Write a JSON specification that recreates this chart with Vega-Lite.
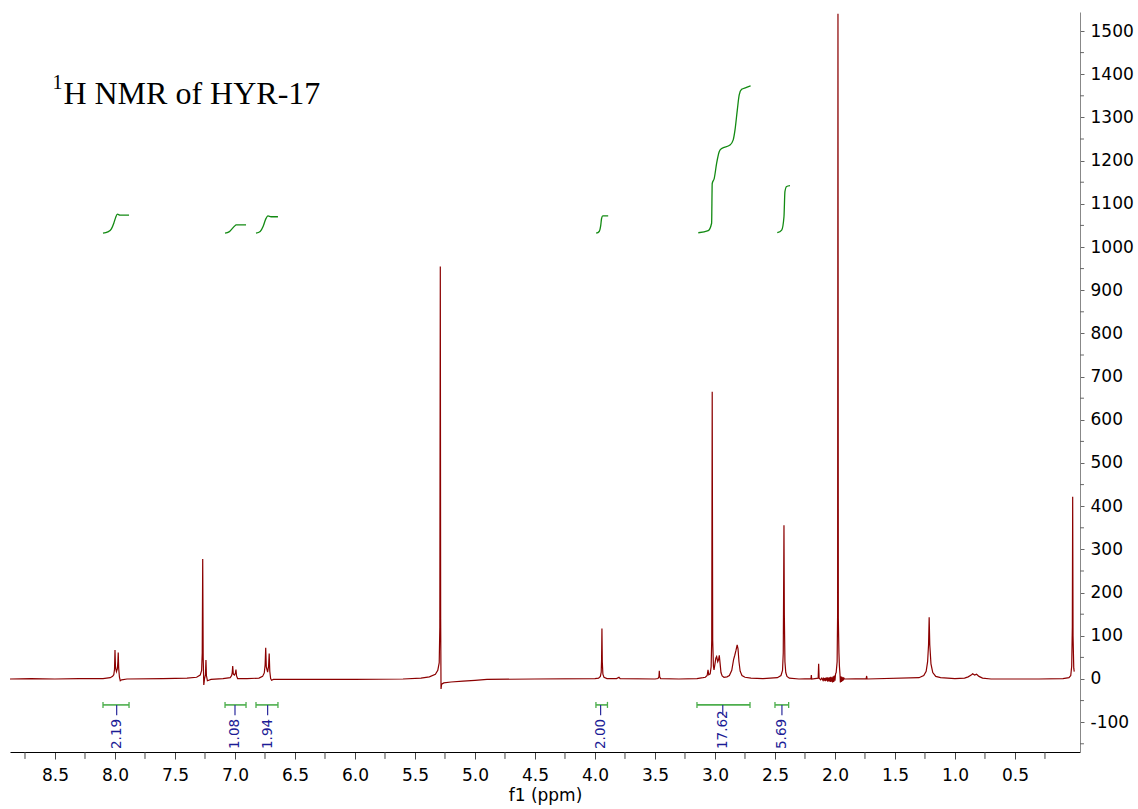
{
  "$schema": "https://vega.github.io/schema/vega-lite/v6.json",
  "width": 1070,
  "height": 740,
  "padding": {"left": 10, "top": 12, "right": 5, "bottom": 5},
  "background": "white",
  "config": {
    "view": {"stroke": null},
    "locale": {"number": {"decimal": ".", "thousands": ",", "grouping": [3], "currency": ["$", ""], "minus": "-"}}
  },
  "datasets": {
    "spec": [
      {"ppm": 8.875, "i": 0}, {"ppm": 8.7, "i": 1}, {"ppm": 8.5, "i": 0}, {"ppm": 8.3, "i": 1}, {"ppm": 8.1, "i": 1},
      {"ppm": 8.04, "i": 3}, {"ppm": 8.02, "i": 6}, {"ppm": 8.01, "i": 10}, {"ppm": 8.004, "i": 22}, {"ppm": 8.0, "i": 67},
      {"ppm": 7.996, "i": 28}, {"ppm": 7.988, "i": 17}, {"ppm": 7.98, "i": 24}, {"ppm": 7.976, "i": 40}, {"ppm": 7.973, "i": 61},
      {"ppm": 7.969, "i": 24}, {"ppm": 7.963, "i": 4}, {"ppm": 7.956, "i": -4}, {"ppm": 7.945, "i": -2}, {"ppm": 7.9, "i": 0},
      {"ppm": 7.6, "i": 1}, {"ppm": 7.4, "i": 2}, {"ppm": 7.32, "i": 4}, {"ppm": 7.29, "i": 9}, {"ppm": 7.278, "i": 20},
      {"ppm": 7.273, "i": 60}, {"ppm": 7.269, "i": 278}, {"ppm": 7.265, "i": 50}, {"ppm": 7.26, "i": -14}, {"ppm": 7.254, "i": 0},
      {"ppm": 7.246, "i": 10}, {"ppm": 7.242, "i": 44}, {"ppm": 7.238, "i": 8}, {"ppm": 7.23, "i": -4}, {"ppm": 7.2, "i": -1},
      {"ppm": 7.1, "i": 1}, {"ppm": 7.04, "i": 3}, {"ppm": 7.028, "i": 8}, {"ppm": 7.023, "i": 15}, {"ppm": 7.019, "i": 30},
      {"ppm": 7.014, "i": 11}, {"ppm": 7.004, "i": 9}, {"ppm": 6.996, "i": 14}, {"ppm": 6.992, "i": 22}, {"ppm": 6.987, "i": 7},
      {"ppm": 6.978, "i": 1}, {"ppm": 6.9, "i": 1}, {"ppm": 6.8, "i": 2}, {"ppm": 6.77, "i": 6}, {"ppm": 6.756, "i": 14},
      {"ppm": 6.749, "i": 32}, {"ppm": 6.744, "i": 72}, {"ppm": 6.739, "i": 28}, {"ppm": 6.728, "i": 16}, {"ppm": 6.72, "i": 30},
      {"ppm": 6.715, "i": 59}, {"ppm": 6.71, "i": 18}, {"ppm": 6.703, "i": 1}, {"ppm": 6.695, "i": -3}, {"ppm": 6.68, "i": -1},
      {"ppm": 6.5, "i": -1}, {"ppm": 6.0, "i": -1}, {"ppm": 5.6, "i": 0}, {"ppm": 5.45, "i": 2}, {"ppm": 5.38, "i": 5},
      {"ppm": 5.33, "i": 11}, {"ppm": 5.31, "i": 20}, {"ppm": 5.298, "i": 38}, {"ppm": 5.293, "i": 120}, {"ppm": 5.289, "i": 955},
      {"ppm": 5.286, "i": 140}, {"ppm": 5.283, "i": -23}, {"ppm": 5.278, "i": -12}, {"ppm": 5.26, "i": -9}, {"ppm": 5.2, "i": -7},
      {"ppm": 5.1, "i": -5}, {"ppm": 5.0, "i": -3}, {"ppm": 4.9, "i": -1}, {"ppm": 4.5, "i": 0}, {"ppm": 4.0, "i": 1},
      {"ppm": 3.97, "i": 2}, {"ppm": 3.955, "i": 6}, {"ppm": 3.948, "i": 16}, {"ppm": 3.945, "i": 45}, {"ppm": 3.942, "i": 117},
      {"ppm": 3.939, "i": 40}, {"ppm": 3.934, "i": 11}, {"ppm": 3.925, "i": 4}, {"ppm": 3.9, "i": 1}, {"ppm": 3.82, "i": 1},
      {"ppm": 3.8, "i": 4}, {"ppm": 3.79, "i": 1}, {"ppm": 3.5, "i": 0}, {"ppm": 3.475, "i": 1}, {"ppm": 3.467, "i": 5},
      {"ppm": 3.464, "i": 19}, {"ppm": 3.461, "i": 5}, {"ppm": 3.453, "i": 1}, {"ppm": 3.3, "i": 0}, {"ppm": 3.15, "i": 1},
      {"ppm": 3.1, "i": 3}, {"ppm": 3.08, "i": 4}, {"ppm": 3.065, "i": 8}, {"ppm": 3.058, "i": 21}, {"ppm": 3.052, "i": 10},
      {"ppm": 3.04, "i": 12}, {"ppm": 3.032, "i": 28}, {"ppm": 3.027, "i": 90}, {"ppm": 3.023, "i": 665}, {"ppm": 3.019, "i": 90},
      {"ppm": 3.013, "i": 30}, {"ppm": 3.008, "i": 21}, {"ppm": 3.0, "i": 35}, {"ppm": 2.993, "i": 48}, {"ppm": 2.986, "i": 52},
      {"ppm": 2.977, "i": 40}, {"ppm": 2.97, "i": 45}, {"ppm": 2.964, "i": 55}, {"ppm": 2.958, "i": 38}, {"ppm": 2.95, "i": 15},
      {"ppm": 2.94, "i": 7}, {"ppm": 2.925, "i": 4}, {"ppm": 2.9, "i": 5}, {"ppm": 2.88, "i": 8}, {"ppm": 2.86, "i": 20},
      {"ppm": 2.845, "i": 45}, {"ppm": 2.835, "i": 55}, {"ppm": 2.825, "i": 66}, {"ppm": 2.815, "i": 79}, {"ppm": 2.808, "i": 70},
      {"ppm": 2.8, "i": 40}, {"ppm": 2.79, "i": 18}, {"ppm": 2.775, "i": 8}, {"ppm": 2.75, "i": 4}, {"ppm": 2.7, "i": 2},
      {"ppm": 2.6, "i": 1}, {"ppm": 2.48, "i": 3}, {"ppm": 2.45, "i": 8}, {"ppm": 2.437, "i": 20}, {"ppm": 2.431, "i": 60},
      {"ppm": 2.428, "i": 200}, {"ppm": 2.425, "i": 356}, {"ppm": 2.422, "i": 150}, {"ppm": 2.417, "i": 40}, {"ppm": 2.41, "i": 15},
      {"ppm": 2.4, "i": 6}, {"ppm": 2.38, "i": 2}, {"ppm": 2.3, "i": 0}, {"ppm": 2.2, "i": 1}, {"ppm": 2.197, "i": 9},
      {"ppm": 2.194, "i": 0}, {"ppm": 2.14, "i": 2}, {"ppm": 2.136, "i": 35}, {"ppm": 2.132, "i": 2},
      {"ppm": 2.12, "i": -2}, {"ppm": 2.11, "i": 2}, {"ppm": 2.1, "i": -3}, {"ppm": 2.095, "i": 3}, {"ppm": 2.09, "i": -4},
      {"ppm": 2.085, "i": 2}, {"ppm": 2.08, "i": -5}, {"ppm": 2.075, "i": 3}, {"ppm": 2.07, "i": -4}, {"ppm": 2.065, "i": 4},
      {"ppm": 2.06, "i": -6}, {"ppm": 2.055, "i": 3}, {"ppm": 2.05, "i": -5}, {"ppm": 2.045, "i": 4}, {"ppm": 2.04, "i": -7},
      {"ppm": 2.035, "i": 5}, {"ppm": 2.03, "i": -6}, {"ppm": 2.025, "i": 4}, {"ppm": 2.02, "i": -8}, {"ppm": 2.015, "i": 6},
      {"ppm": 2.01, "i": -7}, {"ppm": 2.005, "i": 8}, {"ppm": 2.0, "i": -4}, {"ppm": 1.995, "i": 12}, {"ppm": 1.99, "i": 15},
      {"ppm": 1.982, "i": 40}, {"ppm": 1.978, "i": 150}, {"ppm": 1.975, "i": 1540}, {"ppm": 1.972, "i": 140}, {"ppm": 1.967, "i": 61},
      {"ppm": 1.963, "i": 30}, {"ppm": 1.958, "i": 10}, {"ppm": 1.955, "i": -8}, {"ppm": 1.951, "i": 6}, {"ppm": 1.947, "i": -7},
      {"ppm": 1.943, "i": 5}, {"ppm": 1.939, "i": -5}, {"ppm": 1.935, "i": 4}, {"ppm": 1.93, "i": -3}, {"ppm": 1.925, "i": 2},
      {"ppm": 1.92, "i": 0}, {"ppm": 1.74, "i": 1}, {"ppm": 1.736, "i": 7}, {"ppm": 1.732, "i": 0}, {"ppm": 1.3, "i": 3},
      {"ppm": 1.26, "i": 8}, {"ppm": 1.24, "i": 18}, {"ppm": 1.228, "i": 40}, {"ppm": 1.22, "i": 80}, {"ppm": 1.215, "i": 143},
      {"ppm": 1.21, "i": 80}, {"ppm": 1.2, "i": 35}, {"ppm": 1.185, "i": 15}, {"ppm": 1.16, "i": 6}, {"ppm": 1.12, "i": 3},
      {"ppm": 1.0, "i": 1}, {"ppm": 0.92, "i": 2}, {"ppm": 0.89, "i": 5}, {"ppm": 0.865, "i": 9}, {"ppm": 0.853, "i": 12},
      {"ppm": 0.836, "i": 9}, {"ppm": 0.82, "i": 11}, {"ppm": 0.8, "i": 6}, {"ppm": 0.77, "i": 2}, {"ppm": 0.7, "i": 0},
      {"ppm": 0.3, "i": 0}, {"ppm": 0.1, "i": 1}, {"ppm": 0.05, "i": 3}, {"ppm": 0.035, "i": 8}, {"ppm": 0.027, "i": 30},
      {"ppm": 0.022, "i": 120}, {"ppm": 0.019, "i": 422}, {"ppm": 0.016, "i": 100}, {"ppm": 0.01, "i": 25}, {"ppm": 0.006, "i": 17}
    ],
    "integ": [
      {"g": 1, "ppm": 8.1, "i": 1032}, {"g": 1, "ppm": 8.06, "i": 1035}, {"g": 1, "ppm": 8.03, "i": 1042}, {"g": 1, "ppm": 8.01, "i": 1055},
      {"g": 1, "ppm": 7.995, "i": 1068}, {"g": 1, "ppm": 7.98, "i": 1076}, {"g": 1, "ppm": 7.96, "i": 1074}, {"g": 1, "ppm": 7.883, "i": 1074},
      {"g": 2, "ppm": 7.083, "i": 1032}, {"g": 2, "ppm": 7.05, "i": 1035}, {"g": 2, "ppm": 7.025, "i": 1042}, {"g": 2, "ppm": 7.005, "i": 1048},
      {"g": 2, "ppm": 6.99, "i": 1051}, {"g": 2, "ppm": 6.908, "i": 1051},
      {"g": 3, "ppm": 6.825, "i": 1032}, {"g": 3, "ppm": 6.79, "i": 1036}, {"g": 3, "ppm": 6.765, "i": 1048}, {"g": 3, "ppm": 6.745, "i": 1064},
      {"g": 3, "ppm": 6.725, "i": 1072}, {"g": 3, "ppm": 6.7, "i": 1070}, {"g": 3, "ppm": 6.642, "i": 1070},
      {"g": 4, "ppm": 3.99, "i": 1032}, {"g": 4, "ppm": 3.965, "i": 1036}, {"g": 4, "ppm": 3.952, "i": 1050}, {"g": 4, "ppm": 3.945, "i": 1066},
      {"g": 4, "ppm": 3.935, "i": 1072}, {"g": 4, "ppm": 3.89, "i": 1072},
      {"g": 5, "ppm": 3.139, "i": 1033}, {"g": 5, "ppm": 3.056, "i": 1038}, {"g": 5, "ppm": 3.028, "i": 1055}, {"g": 5, "ppm": 3.023, "i": 1147},
      {"g": 5, "ppm": 3.006, "i": 1159}, {"g": 5, "ppm": 2.986, "i": 1194}, {"g": 5, "ppm": 2.964, "i": 1221}, {"g": 5, "ppm": 2.944, "i": 1228},
      {"g": 5, "ppm": 2.875, "i": 1236}, {"g": 5, "ppm": 2.848, "i": 1248}, {"g": 5, "ppm": 2.833, "i": 1271}, {"g": 5, "ppm": 2.814, "i": 1317},
      {"g": 5, "ppm": 2.798, "i": 1352}, {"g": 5, "ppm": 2.778, "i": 1365}, {"g": 5, "ppm": 2.742, "i": 1369}, {"g": 5, "ppm": 2.703, "i": 1373},
      {"g": 6, "ppm": 2.481, "i": 1033}, {"g": 6, "ppm": 2.444, "i": 1039}, {"g": 6, "ppm": 2.425, "i": 1070}, {"g": 6, "ppm": 2.417, "i": 1128},
      {"g": 6, "ppm": 2.403, "i": 1140}, {"g": 6, "ppm": 2.375, "i": 1142}
    ],
    "brk": [
      {"label": "2.19", "lo": 7.883, "hi": 8.1, "mid": 7.986},
      {"label": "1.08", "lo": 6.908, "hi": 7.083, "mid": 7.0},
      {"label": "1.94", "lo": 6.642, "hi": 6.825, "mid": 6.728},
      {"label": "2.00", "lo": 3.896, "hi": 3.992, "mid": 3.953},
      {"label": "17.62", "lo": 2.708, "hi": 3.15, "mid": 2.935},
      {"label": "5.69", "lo": 2.386, "hi": 2.5, "mid": 2.442}
    ],
    "xminor": [
      {"ppm": 0.25}, {"ppm": 0.75}, {"ppm": 1.25}, {"ppm": 1.75}, {"ppm": 2.25}, {"ppm": 2.75}, {"ppm": 3.25}, {"ppm": 3.75}, {"ppm": 4.25},
      {"ppm": 4.75}, {"ppm": 5.25}, {"ppm": 5.75}, {"ppm": 6.25}, {"ppm": 6.75}, {"ppm": 7.25}, {"ppm": 7.75}, {"ppm": 8.25}, {"ppm": 8.75}
    ],
    "yminor": [
      {"i": -150}, {"i": -50}, {"i": 50}, {"i": 150}, {"i": 250}, {"i": 350}, {"i": 450}, {"i": 550}, {"i": 650},
      {"i": 750}, {"i": 850}, {"i": 950}, {"i": 1050}, {"i": 1150}, {"i": 1250}, {"i": 1350}, {"i": 1450}
    ]
  },
  "layer": [
    {
      "data": {"name": "spec"},
      "mark": {"type": "line", "color": "#8b0000", "strokeWidth": 1.2, "clip": true},
      "encoding": {
        "x": {
          "field": "ppm", "type": "quantitative", "title": "f1 (ppm)",
          "scale": {"domain": [-0.042, 8.875], "reverse": true, "nice": false, "zero": false},
          "axis": {
            "titleFont": "DejaVu Sans", "titleFontSize": 17, "titleFontWeight": "normal", "titleColor": "#000",
            "titlePadding": 4,
            "values": [0.5, 1, 1.5, 2, 2.5, 3, 3.5, 4, 4.5, 5, 5.5, 6, 6.5, 7, 7.5, 8, 8.5],
            "format": ".1f",
            "labelFont": "DejaVu Sans", "labelFontSize": 17, "labelColor": "#000",
            "labelOverlap": false, "labelFlush": false, "labelPadding": 8,
            "tickSize": 7, "tickColor": "#444", "domainColor": "#000", "grid": false
          }
        },
        "y": {
          "field": "i", "type": "quantitative", "title": null,
          "scale": {"domain": [-169, 1544], "nice": false, "zero": false},
          "axis": {
            "orient": "right",
            "values": [-100, 0, 100, 200, 300, 400, 500, 600, 700, 800, 900, 1000, 1100, 1200, 1300, 1400, 1500],
            "format": "d",
            "labelFont": "DejaVu Sans", "labelFontSize": 17, "labelColor": "#000",
            "labelOverlap": false, "labelFlush": false, "labelPadding": 6,
            "tickSize": 4, "tickColor": "#666", "domainColor": "#888", "grid": false
          }
        }
      }
    },
    {
      "data": {"name": "xminor"},
      "mark": {"type": "rule", "color": "#444", "strokeWidth": 1, "clip": false},
      "encoding": {
        "x": {"field": "ppm", "type": "quantitative", "title": "f1 (ppm)"},
        "y": {"datum": -169, "title": null},
        "y2": {"datum": -185}
      }
    },
    {
      "data": {"name": "yminor"},
      "mark": {"type": "rule", "color": "#666", "strokeWidth": 1, "clip": false},
      "encoding": {
        "y": {"field": "i", "type": "quantitative", "title": null},
        "x": {"datum": -0.042, "title": "f1 (ppm)"},
        "x2": {"datum": -0.075}
      }
    },
    {
      "data": {"name": "integ"},
      "mark": {"type": "line", "color": "#128a12", "strokeWidth": 1.3, "interpolate": "monotone"},
      "encoding": {
        "x": {"field": "ppm", "type": "quantitative", "title": "f1 (ppm)"},
        "y": {"field": "i", "type": "quantitative", "title": null},
        "detail": {"field": "g", "type": "nominal"}
      }
    },
    {
      "data": {"name": "brk"},
      "mark": {"type": "rule", "color": "#4cae4c", "strokeWidth": 1.6},
      "encoding": {
        "x": {"field": "lo", "type": "quantitative", "title": "f1 (ppm)"},
        "x2": {"field": "hi"},
        "y": {"datum": -60, "title": null}
      }
    },
    {
      "data": {"name": "brk"},
      "mark": {"type": "rule", "color": "#4cae4c", "strokeWidth": 1.3},
      "encoding": {
        "x": {"field": "lo", "type": "quantitative", "title": "f1 (ppm)"},
        "y": {"datum": -53, "title": null},
        "y2": {"datum": -67}
      }
    },
    {
      "data": {"name": "brk"},
      "mark": {"type": "rule", "color": "#4cae4c", "strokeWidth": 1.3},
      "encoding": {
        "x": {"field": "hi", "type": "quantitative", "title": "f1 (ppm)"},
        "y": {"datum": -53, "title": null},
        "y2": {"datum": -67}
      }
    },
    {
      "data": {"name": "brk"},
      "mark": {"type": "rule", "color": "#2a2a9c", "strokeWidth": 1.2},
      "encoding": {
        "x": {"field": "mid", "type": "quantitative", "title": "f1 (ppm)"},
        "y": {"datum": -60, "title": null},
        "y2": {"datum": -84}
      }
    },
    {
      "data": {"name": "brk"},
      "mark": {"type": "text", "angle": 270, "align": "left", "baseline": "middle", "font": "DejaVu Sans", "fontSize": 13.5, "color": "#1c1c96"},
      "encoding": {
        "x": {"field": "mid", "type": "quantitative", "title": "f1 (ppm)"},
        "y": {"datum": -162, "title": null},
        "text": {"field": "label"}
      }
    },
    {
      "data": {"values": [{"t": "1"}]},
      "mark": {"type": "text", "align": "left", "baseline": "alphabetic", "font": "Liberation Serif", "fontSize": 20, "color": "#000"},
      "encoding": {
        "x": {"datum": 8.52, "title": "f1 (ppm)"},
        "y": {"datum": 1366, "title": null},
        "text": {"field": "t"}
      }
    },
    {
      "data": {"values": [{"t": "H NMR of HYR-17"}]},
      "mark": {"type": "text", "align": "left", "baseline": "alphabetic", "font": "Liberation Serif", "fontSize": 32, "color": "#000"},
      "encoding": {
        "x": {"datum": 8.43, "title": "f1 (ppm)"},
        "y": {"datum": 1331, "title": null},
        "text": {"field": "t"}
      }
    }
  ]
}
